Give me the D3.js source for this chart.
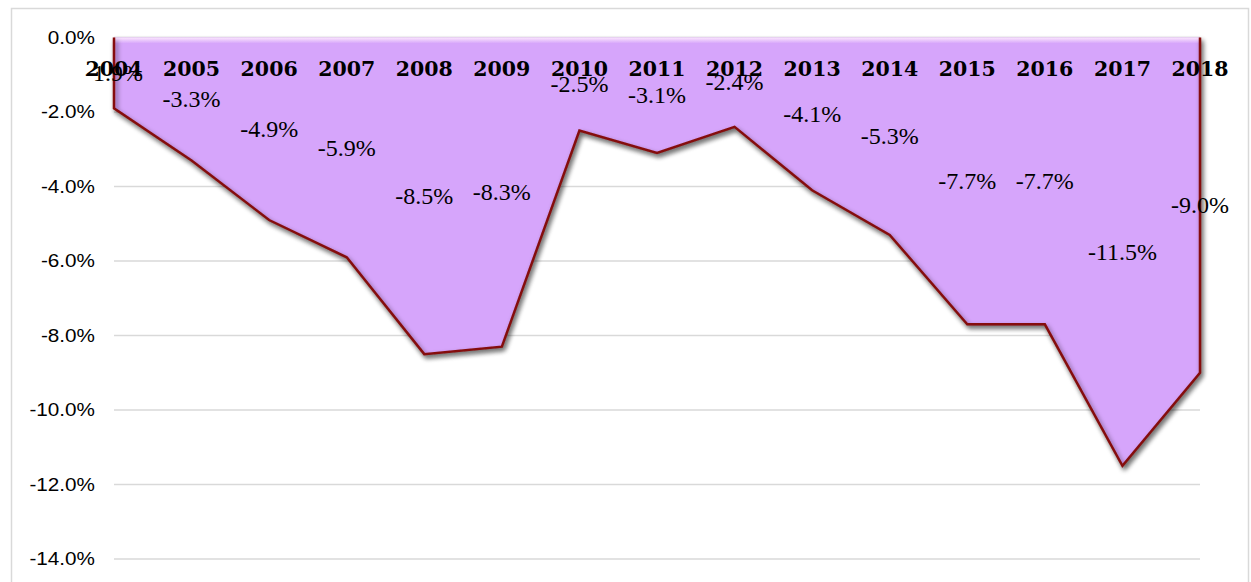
<!DOCTYPE html>
<html>
<head>
<meta charset="utf-8">
<script src="https://cdn.jsdelivr.net/npm/d3@7"></script>
<style>
  body { margin: 0; background: #fff; }
  svg { display: block; }
</style>
</head>
<body>
<svg id="chart" width="1251" height="582"></svg>
<script>
// values
const years = ["2004", "2005", "2006", "2007", "2008", "2009", "2010", "2011", "2012", "2013", "2014", "2015", "2016", "2017", "2018"]
const balance = [-1.9, -3.3, -4.9, -5.9, -8.5, -8.3, -2.5, -3.1, -2.4, -4.1, -5.3, -7.7, -7.7, -11.5, -9.0]
const yTicks = [0, -2, -4, -6, -8, -10, -12, -14]

const LEFT = 114
const RIGHT = 1200
const TOP = 37.5
const BOTTOM = 559

var svg = d3.select("#chart")
var data = years.map((y, i) => ({ year: y, v: balance[i] }))

// plain hyphen instead of d3's unicode minus
var pct = v => v.toFixed(1) + "%"

var x = d3.scalePoint().domain(years).range([LEFT, RIGHT])
var y = d3.scaleLinear().domain([0, -14]).range([TOP, BOTTOM])

var defs = svg.append("defs")
var shadow = defs.append("filter").attr("id", "shadow")
    .attr("x", "-5%").attr("y", "-5%").attr("width", "110%").attr("height", "115%")
shadow.append("feGaussianBlur").attr("in", "SourceAlpha").attr("stdDeviation", 2.5)
shadow.append("feOffset").attr("dx", 2).attr("dy", 3).attr("result", "blur")
shadow.append("feComponentTransfer").append("feFuncA").attr("type", "linear").attr("slope", 0.55)
var merge = shadow.append("feMerge")
merge.append("feMergeNode")
merge.append("feMergeNode").attr("in", "SourceGraphic")

var topGrad = defs.append("linearGradient").attr("id", "topGlow")
    .attr("x1", 0).attr("x2", 0).attr("y1", 0).attr("y2", 1)
topGrad.append("stop").attr("offset", "0%").attr("stop-color", "#fbe6fd")
topGrad.append("stop").attr("offset", "100%").attr("stop-color", "#d6a5fb")

// chart frame
svg.append("rect")
    .attr("x", 11.5).attr("y", 8.5)
    .attr("width", 1237).attr("height", 600)
    .attr("fill", "none")
    .attr("stroke", "#d9d9d9")
    .attr("stroke-width", 1.5)

// gridlines
svg.append("g").selectAll("line").data(yTicks).enter().append("line")
    .attr("x1", LEFT).attr("x2", RIGHT)
    .attr("y1", d => y(d)).attr("y2", d => y(d))
    .attr("stroke", "#d9d9d9")
    .attr("stroke-width", 1.5)

// y axis labels (slightly widened, like the source)
svg.append("g").selectAll("text").data(yTicks).enter().append("text")
    .attr("transform", d => "translate(95," + y(d) + ") scale(1.15,1)")
    .attr("dy", "0.36em")
    .attr("text-anchor", "end")
    .attr("font-family", "Liberation Sans, Arial, sans-serif")
    .attr("font-size", 18)
    .attr("fill", "#000")
    .text(d => pct(d))

// area
var area = d3.area()
    .x(d => x(d.year))
    .y0(y(0))
    .y1(d => y(d.v))

svg.append("path")
    .datum(data)
    .attr("d", area)
    .attr("fill", "#d6a5fb")
    .attr("filter", "url(#shadow)")

// light bevel along the top edge
svg.append("rect")
    .attr("x", LEFT).attr("y", y(0))
    .attr("width", RIGHT - LEFT).attr("height", 6)
    .attr("fill", "url(#topGlow)")

// outline: left edge, values, right edge
var outline = [{ year: years[0], v: 0 }].concat(data, [{ year: years[years.length - 1], v: 0 }])
svg.append("path")
    .datum(outline)
    .attr("d", d3.line().x(d => x(d.year)).y(d => y(d.v)))
    .attr("fill", "none")
    .attr("stroke", "#850d0d")
    .attr("stroke-width", 2.5)
    .attr("stroke-linejoin", "miter")
    .attr("filter", "url(#shadow)")

// data labels, centred in the area
svg.append("g").selectAll("text").data(data).enter().append("text")
    .attr("x", d => x(d.year))
    .attr("y", d => y(d.v / 2))
    .attr("dy", "0.34em")
    .attr("text-anchor", "middle")
    .attr("font-family", "Liberation Serif, serif")
    .attr("font-size", 24)
    .attr("fill", "#000")
    .text(d => pct(d.v))

// category labels
svg.append("g").selectAll("text").data(years).enter().append("text")
    .attr("x", d => x(d))
    .attr("y", 76)
    .attr("text-anchor", "middle")
    .attr("font-family", "DejaVu Serif, serif")
    .attr("font-weight", "bold")
    .attr("font-size", 20.5)
    .attr("fill", "#000")
    .text(d => d)
</script>
</body>
</html>
